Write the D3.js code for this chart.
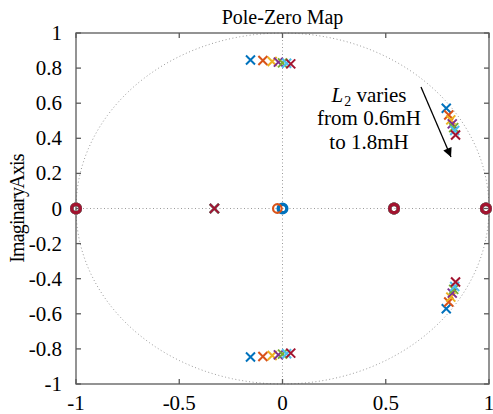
<!doctype html>
<html>
<head>
<meta charset="utf-8">
<script src="https://cdnjs.cloudflare.com/ajax/libs/d3/7.8.5/d3.min.js"></script>
<style>
body { margin: 0; background: #fff; }
text { font-family: "Liberation Serif", "Times New Roman", serif; }
</style>
</head>
<body>
<svg id="chart" width="493" height="414"></svg>
<script>
// L2 values, one series each (0.6mH .. 1.8mH)
var series = ["0.6mH", "0.8mH", "1.0mH", "1.2mH", "1.4mH", "1.6mH", "1.8mH"];
var colors = ["#0072BD", "#D95319", "#EDB120", "#7E2F8E", "#77AC30", "#4DBEEE", "#A2142F"];

// poles (x marks); complex pairs are drawn with their conjugates
var polesTopRe = [-0.155, -0.095, -0.05, -0.02, 0.0, 0.02, 0.04];
var polesTopIm = [0.846, 0.843, 0.838, 0.834, 0.830, 0.828, 0.824];
var polesRightRe = [0.793, 0.805, 0.815, 0.822, 0.829, 0.834, 0.838];
var polesRightIm = [0.571, 0.533, 0.505, 0.482, 0.461, 0.444, 0.419];
var poleReal = [-0.33, -0.33, -0.33, -0.33, -0.33, -0.33, -0.33];

// zeros (circles), all on the real axis
var zeroLeft = [-1, -1, -1, -1, -1, -1, -1];
var zeroMid = [0.54, 0.54, 0.54, 0.54, 0.54, 0.54, 0.54];
var zeroRight = [0.985, 0.985, 0.985, 0.985, 0.985, 0.985, 0.985];
var zeroCenter = [0.0, -0.025, null, null, null, null, null];

var xTicks = [-1, -0.5, 0, 0.5, 1];
var yTicks = [-1, -0.8, -0.6, -0.4, -0.2, 0, 0.2, 0.4, 0.6, 0.8, 1];

var svg = d3.select("#chart");
var mLeft = 76, mRight = 489, mTop = 33, mBottom = 384;
var x = d3.scaleLinear().domain([-1, 1]).range([mLeft, mRight]);
var y = d3.scaleLinear().domain([-1, 1]).range([mBottom, mTop]);
var fmt = d => String(d);

// grid through origin and unit circle
var grid = svg.append("g").attr("stroke", "#9a9a9a").attr("stroke-width", 1)
  .attr("stroke-dasharray", "1,2.5").attr("fill", "none");
grid.append("line").attr("x1", x(-1)).attr("x2", x(1)).attr("y1", y(0)).attr("y2", y(0));
grid.append("line").attr("x1", x(0)).attr("x2", x(0)).attr("y1", y(-1)).attr("y2", y(1));
var circ = d3.range(0, 361, 2).map(a => [x(Math.cos(a * Math.PI / 180)), y(Math.sin(a * Math.PI / 180))]);
grid.append("path").attr("d", d3.line()(circ));

// axes box and inward ticks
var ax = svg.append("g").attr("stroke", "#5a5a5a").attr("stroke-width", 1.3);
ax.append("rect").attr("x", mLeft).attr("y", mTop).attr("width", mRight - mLeft).attr("height", mBottom - mTop).attr("fill", "none");
xTicks.forEach(function (t) {
  ax.append("line").attr("x1", x(t)).attr("x2", x(t)).attr("y1", mBottom).attr("y2", mBottom - 5);
  ax.append("line").attr("x1", x(t)).attr("x2", x(t)).attr("y1", mTop).attr("y2", mTop + 5);
});
yTicks.forEach(function (t) {
  ax.append("line").attr("x1", mLeft).attr("x2", mLeft + 5).attr("y1", y(t)).attr("y2", y(t));
  ax.append("line").attr("x1", mRight).attr("x2", mRight - 5).attr("y1", y(t)).attr("y2", y(t));
});

svg.append("g").selectAll("text").data(xTicks).enter().append("text")
  .attr("x", d => x(d)).attr("y", 410).attr("text-anchor", "middle")
  .attr("font-size", 21).text(fmt);
svg.append("g").selectAll("text").data(yTicks).enter().append("text")
  .attr("x", 62).attr("y", d => y(d) + 7).attr("text-anchor", "end")
  .attr("font-size", 21).text(fmt);

svg.append("text").attr("x", x(0)).attr("y", 24).attr("text-anchor", "middle")
  .attr("font-size", 20).text("Pole-Zero Map");
svg.append("text").attr("transform", "translate(24," + y(0) + ") rotate(-90)")
  .attr("text-anchor", "middle").attr("font-size", 20).attr("letter-spacing", -0.8)
  .attr("word-spacing", -4).text("Imaginary Axis");

// marks
var marks = svg.append("g");
function cross(g, px, py, c) {
  var s = 4.5;
  g.append("path").attr("d", "M" + (px - s) + "," + (py - s) + "L" + (px + s) + "," + (py + s) +
    "M" + (px - s) + "," + (py + s) + "L" + (px + s) + "," + (py - s))
    .attr("stroke", c).attr("stroke-width", 2).attr("fill", "none");
}
function ring(g, px, py, c, w) {
  g.append("circle").attr("cx", px).attr("cy", py).attr("r", 4.3)
    .attr("stroke", c).attr("stroke-width", w).attr("fill", "none");
}
series.forEach(function (s, i) {
  var g = marks.append("g").attr("class", "series");
  var c = colors[i];
  cross(g, x(polesTopRe[i]), y(polesTopIm[i]), c);
  cross(g, x(polesTopRe[i]), y(-polesTopIm[i]), c);
  cross(g, x(polesRightRe[i]), y(polesRightIm[i]), c);
  cross(g, x(polesRightRe[i]), y(-polesRightIm[i]), c);
  cross(g, x(poleReal[i]), y(0), c);
  ring(g, x(zeroLeft[i]), y(0), c, 3.4);
  ring(g, x(zeroMid[i]), y(0), c, 3.4);
  ring(g, x(zeroRight[i]), y(0), c, 3.4);
  if (zeroCenter[i] !== null) ring(g, x(zeroCenter[i]), y(0), c, i === 0 ? 3.4 : 2.2);
});

// annotation
var ann = svg.append("text").attr("text-anchor", "middle").attr("font-size", 21);
var l1 = ann.append("tspan").attr("x", 369).attr("y", 102);
l1.append("tspan").attr("font-style", "italic").text("L");
l1.append("tspan").attr("font-size", 14).attr("dx", 1).attr("dy", 4).text("2");
l1.append("tspan").attr("dy", -4).text(" varies");
ann.append("tspan").attr("x", 369).attr("y", 125).text("from 0.6mH");
ann.append("tspan").attr("x", 369).attr("y", 149).text("to 1.8mH");

svg.append("defs").append("marker").attr("id", "ah").attr("viewBox", "0 0 10 10")
  .attr("refX", 10).attr("refY", 5).attr("markerWidth", 10).attr("markerHeight", 9)
  .attr("markerUnits", "userSpaceOnUse").attr("orient", "auto")
  .append("path").attr("d", "M0,0L10,5L0,10z").attr("fill", "#000");
svg.append("line").attr("x1", 421).attr("y1", 87).attr("x2", 451).attr("y2", 157)
  .attr("stroke", "#000").attr("stroke-width", 1.3).attr("marker-end", "url(#ah)");
</script>
</body>
</html>
